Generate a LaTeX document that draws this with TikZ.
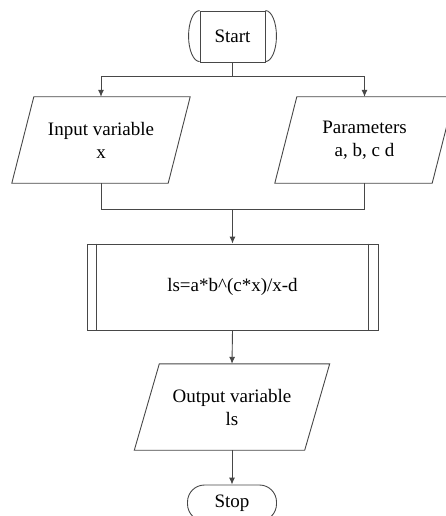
\documentclass[tikz,border=0pt]{standalone}
\usepackage{fontspec}
\setmainfont{Liberation Serif}
\usetikzlibrary{arrows.meta}

% parallelogram drawn around a (borderless) text node: slant offset #2
\newcommand\ioframe[2]{%
  \draw[flowline] ([xshift=-#2]#1.south west) -- ([xshift=-#2]#1.south east)
    -- ([xshift=#2]#1.north east) -- ([xshift=#2]#1.north west) -- cycle;}

\begin{document}
\begin{tikzpicture}[x=1pt,y=-1pt,
  flowline/.style={draw=black!72,line width=0.9pt},
  arrowline/.style={flowline,-{Latex[length=7pt,width=6pt]}},
  txt/.style={font=\fontsize{19}{23}\selectfont,align=center,text=black,inner sep=0pt},
  terminal/.style={txt,flowline,minimum width=65pt,minimum height=51pt},
  iobox/.style={txt,minimum height=86pt},
  procbox/.style={txt,flowline,minimum width=291pt,minimum height=86pt},
  stopbox/.style={txt,flowline,rounded corners=17pt,minimum width=89pt,minimum height=36pt}]
\useasboundingbox (0,0) rectangle (446,516);
\clip (0,0) rectangle (446,516);

% start terminal: rectangle with rounded caps
\node[terminal] (start) at (232.5,36.5) {Start};
\draw[flowline] (start.north west) arc[start angle=90,end angle=270,x radius=11pt,y radius=25.5pt];
\draw[flowline] (start.north east) arc[start angle=90,end angle=-90,x radius=11pt,y radius=25.5pt];

% inputs
\node[iobox,minimum width=156pt] (inp) at (101,140) {Input variable\\x};
\ioframe{inp}{11pt}
\node[iobox,minimum width=157pt] (par) at (364.5,140) {Parameters\\a, b, c d};
\ioframe{par}{11pt}

% process
\node[procbox] (proc) at (232.5,287) {ls=a*b\^{}(c*x)/x-d};
\draw[flowline] ([xshift=10pt]proc.north west) -- ([xshift=10pt]proc.south west);
\draw[flowline] ([xshift=-10pt]proc.north east) -- ([xshift=-10pt]proc.south east);

% output
\node[iobox,minimum width=170pt] (out) at (232,407) {Output variable\\ls};
\ioframe{out}{12.5pt}

% stop terminal
\node[stopbox] (stop) at (232,503) {Stop};

% connectors
\coordinate (split) at (232.5,76);
\coordinate (merge) at (232.5,209);
\draw[flowline] (start.south) -- (split);
\draw[arrowline] (split) -| (inp.north);
\draw[arrowline] (split) -| (par.north);
\draw[flowline] (inp.south) |- (merge);
\draw[flowline] (par.south) |- (merge);
\draw[arrowline] (merge) -- (proc.north);
\draw[arrowline] (proc.south) -- (out.north);
\draw[arrowline] (out.south) -- (stop.north);
\end{tikzpicture}
\end{document}
